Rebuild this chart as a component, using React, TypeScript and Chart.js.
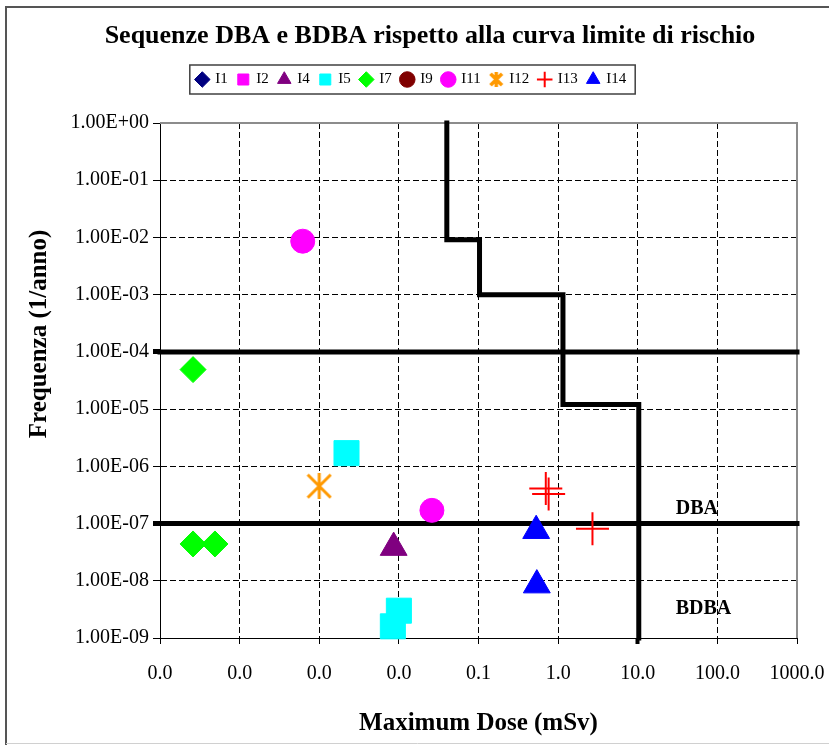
import React, { useEffect, useRef } from 'react';
import { Chart, registerables } from 'chart.js';

Chart.register(...registerables);

const FONT = "'Liberation Serif', 'Times New Roman', serif";

const TITLE = 'Sequenze DBA e BDBA rispetto alla curva limite di rischio';
const X_TITLE = 'Maximum Dose (mSv)';
const Y_TITLE = 'Frequenza (1/anno)';

const xTickValues = [1e-5, 1e-4, 1e-3, 1e-2, 1e-1, 1, 10, 100, 1000];
const xTickLabels = ['0.0', '0.0', '0.0', '0.0', '0.1', '1.0', '10.0', '100.0', '1000.0'];
const yTickValues = [1e-9, 1e-8, 1e-7, 1e-6, 1e-5, 1e-4, 1e-3, 1e-2, 1e-1, 1];
const yTickLabels = ['1.00E-09', '1.00E-08', '1.00E-07', '1.00E-06', '1.00E-05', '1.00E-04', '1.00E-03', '1.00E-02', '1.00E-01', '1.00E+00'];

// series (dose in mSv, frequency in 1/anno)
const i1Dose: number[] = [];
const i1Freq: number[] = [];
const i2Dose: number[] = [];
const i2Freq: number[] = [];
const i4Dose = [8.6e-3];
const i4Freq = [3.8e-8];
const i5Dose = [2.2e-3, 1.0e-2, 8.4e-3];
const i5Freq = [1.7e-6, 3.0e-9, 1.6e-9];
const i7Dose = [2.6e-5, 2.6e-5, 4.9e-5];
const i7Freq = [4.9e-5, 4.4e-8, 4.4e-8];
const i9Dose: number[] = [];
const i9Freq: number[] = [];
const i11Dose = [6.2e-4, 0.026];
const i11Freq = [8.6e-3, 1.7e-7];
const i12Dose = [1.0e-3];
const i12Freq = [4.5e-7];
const i13Dose = [0.7, 0.76, 2.7];
const i13Freq = [4.1e-7, 3.3e-7, 8.1e-8];
const i14Dose = [0.53, 0.54];
const i14Freq = [7.5e-8, 8.4e-9];

// risk limit curve (step)
const curveDose = [0.04, 0.04, 0.103, 0.103, 1.15, 1.15, 10.3, 10.3];
const curveFreq = [1, 9.1e-3, 9.1e-3, 1e-3, 1e-3, 1.2e-5, 1.2e-5, 1e-9];

// horizontal limit lines
const limitDose = [1e-5, 1e3];
const limitHighFreq = [1e-4, 1e-4];
const limitDbaFreq = [1e-7, 1e-7];

// region labels
const regionText = ['DBA', 'BDBA'];
const regionDose = [30, 30];
const regionFreq = [1.46e-7, 2.6e-9];

const SERIES_COUNT = 10;

const pts = (dose: number[], freq: number[]) => dose.map((x, i) => ({ x, y: freq[i] }));

function makeStar(size: number, lw: number, color: string) {
  const c = document.createElement('canvas');
  c.width = size;
  c.height = size;
  const g = c.getContext('2d')!;
  g.strokeStyle = color;
  g.lineWidth = lw;
  g.lineCap = 'butt';
  const m = lw / 2;
  g.beginPath();
  g.moveTo(size / 2, 0);
  g.lineTo(size / 2, size);
  g.moveTo(m, m);
  g.lineTo(size - m, size - m);
  g.moveTo(size - m, m);
  g.lineTo(m, size - m);
  g.stroke();
  return c;
}

function marker(label: string, data: any[], style: any, radius: number, color: string, borderWidth = 1) {
  return {
    label,
    data,
    pointStyle: style,
    pointRadius: radius,
    pointHoverRadius: radius,
    backgroundColor: color,
    borderColor: color,
    pointBackgroundColor: color,
    pointBorderColor: color,
    pointBorderWidth: borderWidth,
    showLine: false,
    clip: false,
  };
}

function limitLine(label: string, data: any[]) {
  return {
    label,
    data,
    showLine: true,
    borderColor: '#000',
    backgroundColor: '#000',
    borderWidth: 5,
    pointRadius: 0,
    pointHoverRadius: 0,
    borderCapStyle: 'square',
    borderJoinStyle: 'miter',
    tension: 0,
    clip: false,
  };
}

const isDecade = (v: number, e: number) => Math.abs(Math.log10(v) - e) < 1e-6;

export default function App() {
  const ref = useRef<HTMLCanvasElement>(null);

  useEffect(() => {
    document.body.style.margin = '0';
    const canvas = ref.current!;
    const star = makeStar(26, 3, '#FF9900');
    const legendStar = makeStar(15, 3.5, '#FF9900');

    const decor = {
      id: 'decor',
      beforeDatasetsDraw(chart: any) {
        const { ctx, chartArea: a } = chart;
        ctx.save();
        ctx.strokeStyle = '#8c8c8c';
        ctx.lineWidth = 2;
        ctx.setLineDash([]);
        ctx.beginPath();
        ctx.moveTo(a.left, a.top);
        ctx.lineTo(a.right, a.top);
        ctx.lineTo(a.right, a.bottom);
        ctx.stroke();
        ctx.restore();
      },
      afterDraw(chart: any) {
        const { ctx } = chart;
        ctx.save();
        // legend frame
        const hb = chart.legend.legendHitBoxes || [];
        if (hb.length) {
          const l = Math.min(...hb.map((h: any) => h.left)) - 7;
          const r = Math.max(...hb.map((h: any) => h.left + h.width)) + 9;
          const t = hb[0].top - 7;
          const b = hb[0].top + hb[0].height + 7;
          ctx.strokeStyle = '#404040';
          ctx.lineWidth = 1.5;
          ctx.strokeRect(l, t, r - l, b - t);
        }
        // title
        ctx.fillStyle = '#000';
        ctx.font = `bold 26px ${FONT}`;
        ctx.textAlign = 'center';
        ctx.textBaseline = 'alphabetic';
        ctx.fillText(TITLE, 430, 43);
        // y axis title
        ctx.save();
        ctx.translate(40, 334);
        ctx.rotate(-Math.PI / 2);
        ctx.font = `bold 25px ${FONT}`;
        ctx.textAlign = 'center';
        ctx.textBaseline = 'middle';
        ctx.fillText(Y_TITLE, 0, 0);
        ctx.restore();
        // region labels
        const xs = chart.scales.x;
        const ys = chart.scales.y;
        ctx.font = `bold 20px ${FONT}`;
        ctx.textAlign = 'left';
        ctx.textBaseline = 'alphabetic';
        regionText.forEach((txt, i) => {
          ctx.fillText(txt, xs.getPixelForValue(regionDose[i]), ys.getPixelForValue(regionFreq[i]));
        });
        // outer frame
        ctx.strokeStyle = '#555';
        ctx.lineWidth = 2;
        ctx.beginPath();
        ctx.moveTo(6, 745);
        ctx.lineTo(6, 7);
        ctx.lineTo(829, 7);
        ctx.stroke();
        ctx.strokeStyle = '#d0d0d0';
        ctx.lineWidth = 1;
        ctx.beginPath();
        ctx.moveTo(6, 743.5);
        ctx.lineTo(829, 743.5);
        ctx.stroke();
        ctx.restore();
      },
    };

    const chart = new Chart(canvas, {
      type: 'scatter',
      data: {
        datasets: [
          marker('I1', pts(i1Dose, i1Freq), 'rectRot', 13, '#000080'),
          marker('I2', pts(i2Dose, i2Freq), 'rect', 17.7, '#FF00FF'),
          marker('I4', pts(i4Dose, i4Freq), 'triangle', 15.5, '#800080'),
          marker('I5', pts(i5Dose, i5Freq), 'rect', 17.7, '#00FFFF'),
          marker('I7', pts(i7Dose, i7Freq), 'rectRot', 13, '#00FF00'),
          marker('I9', pts(i9Dose, i9Freq), 'circle', 12, '#800000'),
          marker('I11', pts(i11Dose, i11Freq), 'circle', 12, '#FF00FF'),
          marker('I12', pts(i12Dose, i12Freq), star, 13, '#FF9900', 3),
          marker('I13', pts(i13Dose, i13Freq), 'cross', 16.5, '#FF0000', 2),
          marker('I14', pts(i14Dose, i14Freq), 'triangle', 15.5, '#0000FF'),
          limitLine('curve', pts(curveDose, curveFreq)),
          limitLine('limitHigh', pts(limitDose, limitHighFreq)),
          limitLine('limitDBA', pts(limitDose, limitDbaFreq)),
        ] as any,
      },
      options: {
        animation: false,
        responsive: false,
        events: [],
        layout: { padding: { top: 62, left: 26, right: 32, bottom: 4 } },
        plugins: {
          title: { display: false },
          subtitle: {
            display: true,
            text: ' ',
            weight: 100,
            font: { size: 10, lineHeight: 1 },
            padding: { top: 16, bottom: 0 },
          } as any,
          legend: {
            display: true,
            position: 'top',
            labels: {
              usePointStyle: true,
              boxWidth: 11,
              boxHeight: 11,
              padding: 10,
              color: '#000',
              font: { family: FONT, size: 15 },
              generateLabels: (ch: any) => {
                const items = (Chart.defaults.plugins.legend.labels as any).generateLabels(ch);
                return items
                  .filter((it: any) => it.datasetIndex < SERIES_COUNT)
                  .map((it: any) => (it.text === 'I12' ? { ...it, pointStyle: legendStar } : it));
              },
            },
          },
          tooltip: { enabled: false },
        },
        scales: {
          x: {
            type: 'logarithmic',
            position: 'bottom',
            min: 1e-5,
            max: 1e3,
            afterBuildTicks: (s: any) => {
              s.ticks = xTickValues.map((v) => ({ value: v }));
            },
            afterFit: (s: any) => {
              s.height = 103;
              s.paddingLeft = 0;
              s.paddingRight = 0;
            },
            ticks: {
              autoSkip: false,
              maxRotation: 0,
              minRotation: 0,
              padding: 18,
              color: '#000',
              font: { family: FONT, size: 20 },
              callback: (_v: any, i: number) => xTickLabels[i],
            },
            grid: {
              color: '#000',
              lineWidth: 1,
              drawTicks: true,
              tickLength: 6,
              tickColor: '#000',
              tickWidth: (c: any) => (c.tick && isDecade(c.tick.value, 1) ? 4 : 1),
              tickBorderDash: [],
            },
            border: { display: true, color: '#000', width: 1, dash: [6, 3] },
            title: {
              display: true,
              text: X_TITLE,
              color: '#000',
              font: { family: FONT, size: 25, weight: 'bold', lineHeight: 1 },
              padding: { top: 0, bottom: 4.5 },
            },
          } as any,
          y: {
            type: 'logarithmic',
            position: 'left',
            min: 1e-9,
            max: 1,
            afterBuildTicks: (s: any) => {
              s.ticks = yTickValues.map((v) => ({ value: v }));
            },
            afterFit: (s: any) => {
              s.width = 134;
            },
            ticks: {
              autoSkip: false,
              padding: 4,
              color: '#000',
              font: { family: FONT, size: 20 },
              callback: (_v: any, i: number) => yTickLabels[i],
            },
            grid: {
              color: '#000',
              lineWidth: 1,
              drawTicks: true,
              tickLength: 7,
              tickColor: '#000',
              tickWidth: (c: any) =>
                c.tick && (isDecade(c.tick.value, -4) || isDecade(c.tick.value, -7)) ? 5 : 1,
              tickBorderDash: [],
            },
            border: { display: true, color: '#000', width: 1, dash: [6, 3] },
            title: { display: false },
          } as any,
        },
      },
      plugins: [decor],
    } as any);

    return () => chart.destroy();
  }, []);

  return (
    <div style={{ width: 829, height: 745 }}>
      <canvas ref={ref} width={829} height={745} style={{ display: 'block' }} />
    </div>
  );
}
